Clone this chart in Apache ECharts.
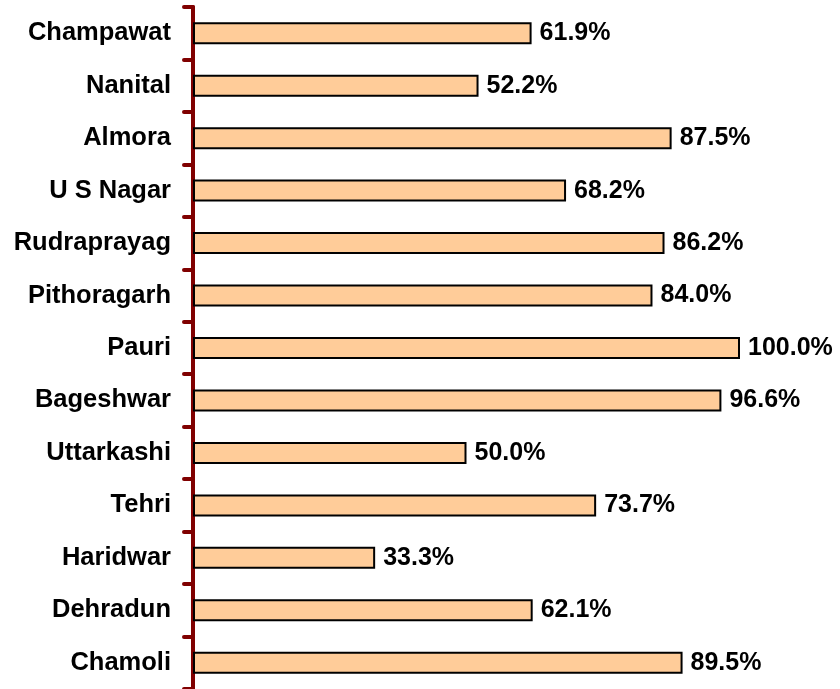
<!DOCTYPE html>
<html lang="en">
<head>
    <meta charset="UTF-8">
    <title>District bars</title>
    <script src="https://cdn.jsdelivr.net/npm/echarts@6/dist/echarts.min.js"></script>
    <style>
        html, body { margin: 0; padding: 0; background: #fff; }
        #chart { width: 840px; height: 689px; }
    </style>
</head>
<body>
<div id="chart"></div>
<script type="text/javascript">
    // districts, top to bottom
    var districts = ['Champawat', 'Nanital', 'Almora', 'U S Nagar', 'Rudraprayag', 'Pithoragarh',
        'Pauri', 'Bageshwar', 'Uttarkashi', 'Tehri', 'Haridwar', 'Dehradun', 'Chamoli'];
    var percent = [61.9, 52.2, 87.5, 68.2, 86.2, 84.0, 100.0, 96.6, 50.0, 73.7, 33.3, 62.1, 89.5];

    var chart = echarts.init(document.getElementById('chart'));
    chart.setOption({
        animation: false,
        grid: {
            left: 193,
            top: 7,
            right: 100,
            height: 685
        },
        xAxis: {
            type: 'value',
            min: 0,
            max: 100,
            show: false
        },
        yAxis: {
            type: 'category',
            data: districts,
            inverse: true,
            axisLine: {
                lineStyle: { color: '#800000', width: 4, cap: 'round' }
            },
            axisTick: {
                show: true,
                length: 9,
                lineStyle: { color: '#800000', width: 4, cap: 'round' }
            },
            axisLabel: {
                margin: 22,
                padding: [5, 0, 0, 0],
                color: '#000',
                fontFamily: 'Liberation Sans',
                fontWeight: 'bold',
                fontSize: 25.5
            }
        },
        series: [{
            type: 'bar',
            data: percent,
            barWidth: 22,
            itemStyle: {
                color: '#FFCC99',
                borderColor: '#000',
                borderWidth: 2
            },
            label: {
                show: true,
                position: 'right',
                distance: 8,
                padding: [5, 0, 0, 0],
                color: '#000',
                fontFamily: 'Liberation Sans',
                fontWeight: 'bold',
                fontSize: 25,
                formatter: function (p) { return p.value.toFixed(1) + '%'; }
            }
        }]
    });
</script>
</body>
</html>
